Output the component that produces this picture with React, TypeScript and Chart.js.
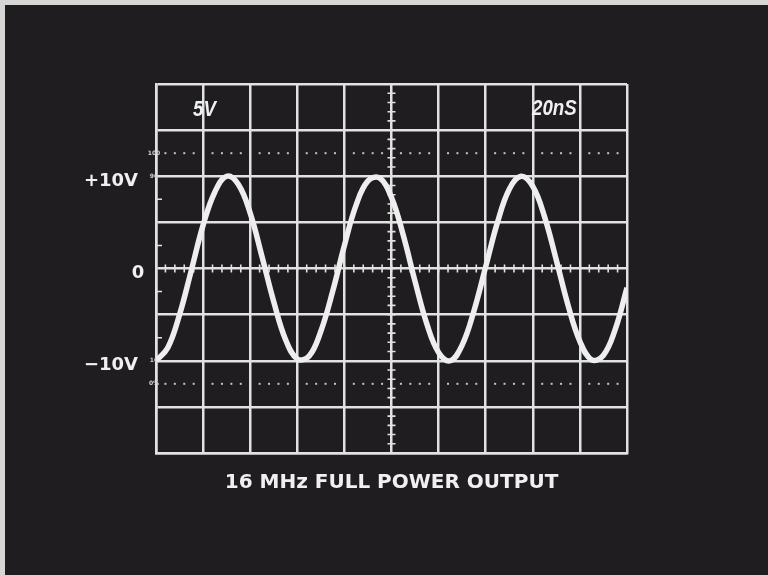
import React, { useEffect, useRef } from "react";
import { Chart, registerables } from "chart.js";

Chart.register(...registerables);

// Waveform samples (time in ns, amplitude in V)
const timeNs = [0, 5, 10, 15, 20, 25, 30, 35, 40, 45, 50, 55, 60, 65, 70, 75, 80, 85, 90, 95, 100, 105, 110, 115, 120, 125, 130, 135, 140, 145, 150, 155, 160, 165, 170, 175, 180, 185, 190, 195, 200];
const volts = [-10, -8.6, -5.0, -0.2, 4.7, 8.3, 10.0, 9.1, 6.0, 1.3, -3.6, -7.7, -9.8, -9.5, -6.8, -2.5, 2.5, 6.9, 9.5, 9.8, 7.7, 3.6, -1.4, -6.0, -9.1, -10, -8.3, -4.6, 0.2, 5.0, 8.6, 10, 8.9, 5.6, 0.9, -4.0, -7.9, -9.9, -9.4, -6.6, -2.1];

// Graticule: 10 divisions of 20 ns, 8 divisions of 5 V
const xMin = 0;
const xMax = 200;
const xStep = 20;
const yMin = -20;
const yMax = 20;
const yStep = 5;

const axisLabelValues = [10, 0, -10];
const axisLabelTexts = ["+10V", "0", "\u221210V"];
const percentValues = [12.5, 10, -10, -12.5];
const percentTexts = ["100", "90", "10", "0%"];
const dottedLevels = [12.5, -12.5];
const leftEdgeTickValues = [7.5, 2.5, -2.5, -7.5];
const voltsPerDivText = "5V";
const timePerDivText = "20nS";
const titleText = "16 MHz FULL POWER OUTPUT";

const GRID = "#e2e2e2";
const TRACE = "#eeeeee";
const BG = "#1f1d20";
const FRAME = "#d6d6d4";

const scopePlugin = {
  id: "scope",
  beforeDraw(chart: any) {
    const { ctx, width, height } = chart;
    ctx.save();
    ctx.fillStyle = FRAME;
    ctx.fillRect(0, 0, width, height);
    ctx.fillStyle = BG;
    ctx.fillRect(5, 5, width - 5, height - 5);
    ctx.restore();
  },
  beforeDatasetsDraw(chart: any) {
    const { ctx, chartArea: a } = chart;
    const x = chart.scales.x;
    const y = chart.scales.y;
    ctx.save();
    // dotted 0% / 100% lines
    ctx.fillStyle = "#c4c4c4";
    for (const lv of dottedLevels) {
      const py = y.getPixelForValue(lv);
      for (let k = 1; k < 50; k++) {
        if (k % 5 === 0) continue;
        const px = x.getPixelForValue(k * 4);
        ctx.fillRect(px - 1, py - 1, 2, 2);
      }
    }
    // minor ticks on the centre axes
    ctx.strokeStyle = GRID;
    ctx.lineWidth = 1.6;
    ctx.beginPath();
    const cx = x.getPixelForValue((xMin + xMax) / 2);
    const cy = y.getPixelForValue(0);
    for (let k = 0; k <= 50; k++) {
      const px = x.getPixelForValue(k * 4);
      ctx.moveTo(px, cy - 4);
      ctx.lineTo(px, cy + 4);
    }
    for (let k = -20; k <= 20; k++) {
      const py = y.getPixelForValue(k);
      ctx.moveTo(cx - 4, py);
      ctx.lineTo(cx + 4, py);
    }
    // half-division ticks on the left edge
    for (const v of leftEdgeTickValues) {
      const py = y.getPixelForValue(v);
      ctx.moveTo(a.left, py);
      ctx.lineTo(a.left + 6, py);
    }
    ctx.stroke();
    // tiny percent marks
    ctx.fillStyle = "#d0d0d0";
    ctx.font = "bold 6px 'DejaVu Sans'";
    ctx.textAlign = "center";
    ctx.textBaseline = "middle";
    percentValues.forEach((v, i) => {
      ctx.fillText(percentTexts[i], a.left - 2, y.getPixelForValue(v));
    });
    ctx.restore();
  },
  afterDraw(chart: any) {
    const { ctx, chartArea: a } = chart;
    const y = chart.scales.y;
    ctx.save();
    ctx.fillStyle = "#f0f0f0";
    ctx.font = "bold 18px 'DejaVu Sans'";
    ctx.textBaseline = "alphabetic";
    axisLabelValues.forEach((v, i) => {
      const py = y.getPixelForValue(v) + 9.5;
      ctx.textAlign = v === 0 ? "center" : "right";
      ctx.fillText(axisLabelTexts[i], a.left - 18, py);
    });
    // italic condensed scale factors
    ctx.font = "italic bold 22px 'Liberation Sans'";
    ctx.textAlign = "left";
    ctx.save();
    ctx.translate(a.left + 37, a.top + 32);
    ctx.scale(0.85, 1);
    ctx.fillText(voltsPerDivText, 0, 0);
    ctx.restore();
    ctx.save();
    ctx.translate(a.left + 376, a.top + 31);
    ctx.scale(0.85, 1);
    ctx.fillText(timePerDivText, 0, 0);
    ctx.restore();
    ctx.restore();
  },
};

export default function App() {
  const ref = useRef<HTMLCanvasElement | null>(null);
  useEffect(() => {
    if (!ref.current) return;
    const chart = new Chart(ref.current, {
      type: "line",
      data: {
        datasets: [
          {
            data: timeNs.map((t, i) => ({ x: t, y: volts[i] })),
            borderColor: TRACE,
            borderWidth: 5.5,
            pointRadius: 0,
            tension: 0.4,
            fill: false,
          },
        ],
      },
      options: {
        animation: false,
        responsive: false,
        devicePixelRatio: 1,
        layout: { padding: { left: 156, right: 141, top: 84, bottom: 80 } },
        scales: {
          x: {
            type: "linear",
            min: xMin,
            max: xMax,
            ticks: { stepSize: xStep, display: false },
            grid: { color: GRID, lineWidth: 2.5, drawTicks: false },
            border: { display: true, color: GRID, width: 2.5 },
          },
          y: {
            type: "linear",
            min: yMin,
            max: yMax,
            ticks: { stepSize: yStep, display: false },
            grid: { color: GRID, lineWidth: 2.5, drawTicks: false },
            border: { display: true, color: GRID, width: 2.5 },
          },
        },
        plugins: {
          legend: { display: false },
          tooltip: { enabled: false },
          title: {
            display: true,
            text: titleText,
            position: "bottom",
            fullSize: false,
            color: "#f0f0f0",
            font: { family: "'DejaVu Sans'", size: 20, weight: "bold" },
            padding: { top: 18, bottom: 0 },
          },
        },
      },
      plugins: [scopePlugin],
    });
    return () => chart.destroy();
  }, []);
  return (
    <div style={{ position: "fixed", left: 0, top: 0, width: 768, height: 575, background: BG }}>
      <canvas ref={ref} width={768} height={575} style={{ display: "block" }} />
    </div>
  );
}
